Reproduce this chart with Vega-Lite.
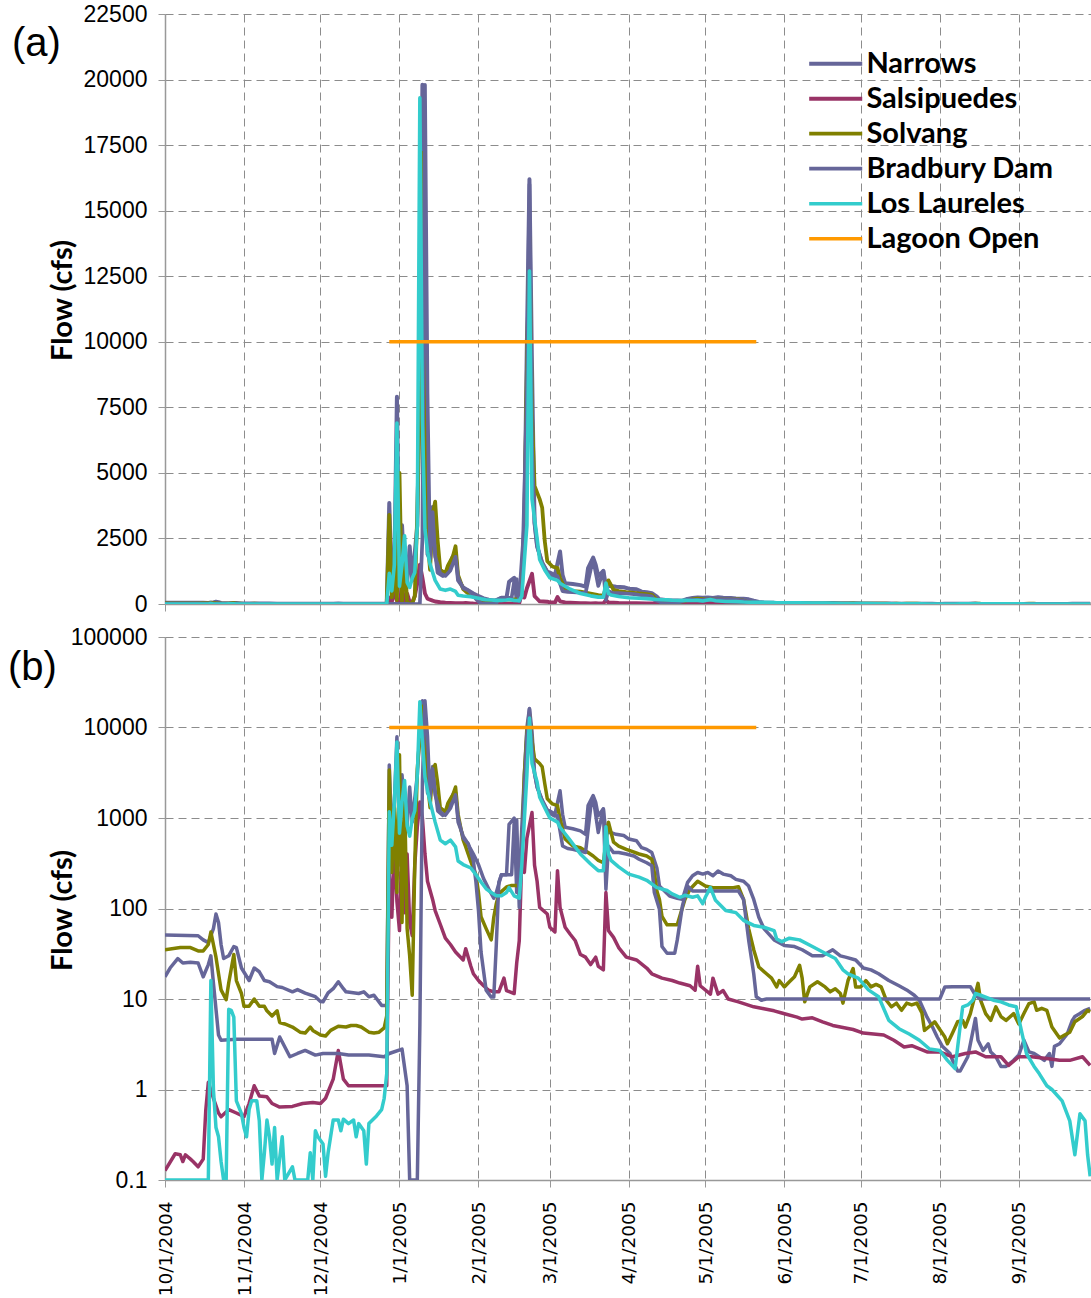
{
"$schema": "https://vega.github.io/schema/vega-lite/v6.json",
"padding": {"left": 8, "top": 3, "right": 0, "bottom": 0},
"autosize": {"type": "pad"},
"background": "white",
"bounds": "flush",
"spacing": 33,
"config": {
  "view": {"stroke": null},
  "axis": {"gridColor": "#8c8c8c", "gridDash": [8, 5], "gridWidth": 1, "domainColor": "#999999", "domainWidth": 1.5, "tickColor": "#999999", "tickSize": 7, "labelFont": "Liberation Sans", "labelColor": "#000000", "labelFontSize": 23, "titleFont": "Lato", "titleFontWeight": "bold", "titleFontSize": 29, "titleColor": "#000000"}
},
"datasets": {
"flows": [
{"series":"Narrows","date":"2004-10-01","flow":51},{"series":"Narrows","date":"2004-10-14","flow":50},{"series":"Narrows","date":"2004-10-16","flow":45},{"series":"Narrows","date":"2004-10-18","flow":42},{"series":"Narrows","date":"2004-10-20","flow":60},{"series":"Narrows","date":"2004-10-21","flow":87},{"series":"Narrows","date":"2004-10-22","flow":70},{"series":"Narrows","date":"2004-10-23","flow":40},{"series":"Narrows","date":"2004-10-24","flow":28},{"series":"Narrows","date":"2004-10-26","flow":30},{"series":"Narrows","date":"2004-10-28","flow":38},{"series":"Narrows","date":"2004-10-29","flow":37},{"series":"Narrows","date":"2004-10-31","flow":22},{"series":"Narrows","date":"2004-11-03","flow":16},{"series":"Narrows","date":"2004-11-05","flow":22},{"series":"Narrows","date":"2004-11-07","flow":20},{"series":"Narrows","date":"2004-11-09","flow":16},{"series":"Narrows","date":"2004-11-11","flow":15.5},{"series":"Narrows","date":"2004-11-14","flow":13.7},{"series":"Narrows","date":"2004-11-16","flow":13.4},{"series":"Narrows","date":"2004-11-20","flow":12},{"series":"Narrows","date":"2004-11-22","flow":12.7},{"series":"Narrows","date":"2004-11-25","flow":11.6},{"series":"Narrows","date":"2004-11-29","flow":10.6},{"series":"Narrows","date":"2004-12-01","flow":9.4},{"series":"Narrows","date":"2004-12-02","flow":9.3},{"series":"Narrows","date":"2004-12-04","flow":11.7},{"series":"Narrows","date":"2004-12-06","flow":13},{"series":"Narrows","date":"2004-12-08","flow":15.5},{"series":"Narrows","date":"2004-12-10","flow":13},{"series":"Narrows","date":"2004-12-11","flow":12},{"series":"Narrows","date":"2004-12-16","flow":11.5},{"series":"Narrows","date":"2004-12-18","flow":12},{"series":"Narrows","date":"2004-12-20","flow":10.6},{"series":"Narrows","date":"2004-12-22","flow":11},{"series":"Narrows","date":"2004-12-25","flow":8.5},{"series":"Narrows","date":"2004-12-27","flow":8.5},{"series":"Narrows","date":"2004-12-28","flow":3850},{"series":"Narrows","date":"2004-12-29","flow":600},{"series":"Narrows","date":"2004-12-30","flow":1500},{"series":"Narrows","date":"2004-12-31","flow":7900},{"series":"Narrows","date":"2005-01-01","flow":700},{"series":"Narrows","date":"2005-01-02","flow":3000},{"series":"Narrows","date":"2005-01-03","flow":1000},{"series":"Narrows","date":"2005-01-04","flow":800},{"series":"Narrows","date":"2005-01-05","flow":2200},{"series":"Narrows","date":"2005-01-06","flow":900},{"series":"Narrows","date":"2005-01-08","flow":3000},{"series":"Narrows","date":"2005-01-09","flow":9000},{"series":"Narrows","date":"2005-01-10","flow":19800},{"series":"Narrows","date":"2005-01-11","flow":12000},{"series":"Narrows","date":"2005-01-12","flow":1900},{"series":"Narrows","date":"2005-01-13","flow":1700},{"series":"Narrows","date":"2005-01-14","flow":3700},{"series":"Narrows","date":"2005-01-15","flow":2000},{"series":"Narrows","date":"2005-01-16","flow":1200},{"series":"Narrows","date":"2005-01-18","flow":1070},{"series":"Narrows","date":"2005-01-20","flow":1280},{"series":"Narrows","date":"2005-01-22","flow":1830},{"series":"Narrows","date":"2005-01-23","flow":1900},{"series":"Narrows","date":"2005-01-24","flow":900},{"series":"Narrows","date":"2005-01-26","flow":630},{"series":"Narrows","date":"2005-01-27","flow":570},{"series":"Narrows","date":"2005-01-30","flow":400},{"series":"Narrows","date":"2005-02-01","flow":306},{"series":"Narrows","date":"2005-02-03","flow":214},{"series":"Narrows","date":"2005-02-05","flow":165},{"series":"Narrows","date":"2005-02-07","flow":130},{"series":"Narrows","date":"2005-02-08","flow":150},{"series":"Narrows","date":"2005-02-10","flow":236},{"series":"Narrows","date":"2005-02-12","flow":236},{"series":"Narrows","date":"2005-02-13","flow":850},{"series":"Narrows","date":"2005-02-15","flow":1000},{"series":"Narrows","date":"2005-02-16","flow":150},{"series":"Narrows","date":"2005-02-17","flow":200},{"series":"Narrows","date":"2005-02-19","flow":3000},{"series":"Narrows","date":"2005-02-20","flow":10000},{"series":"Narrows","date":"2005-02-21","flow":16200},{"series":"Narrows","date":"2005-02-22","flow":9000},{"series":"Narrows","date":"2005-02-23","flow":3100},{"series":"Narrows","date":"2005-02-24","flow":2200},{"series":"Narrows","date":"2005-02-26","flow":1570},{"series":"Narrows","date":"2005-02-28","flow":1220},{"series":"Narrows","date":"2005-03-01","flow":1200},{"series":"Narrows","date":"2005-03-03","flow":1100},{"series":"Narrows","date":"2005-03-05","flow":2000},{"series":"Narrows","date":"2005-03-06","flow":1100},{"series":"Narrows","date":"2005-03-07","flow":790},{"series":"Narrows","date":"2005-03-10","flow":760},{"series":"Narrows","date":"2005-03-13","flow":720},{"series":"Narrows","date":"2005-03-15","flow":660},{"series":"Narrows","date":"2005-03-16","flow":1370},{"series":"Narrows","date":"2005-03-18","flow":1770},{"series":"Narrows","date":"2005-03-19","flow":1490},{"series":"Narrows","date":"2005-03-20","flow":1060},{"series":"Narrows","date":"2005-03-22","flow":1260},{"series":"Narrows","date":"2005-03-23","flow":690},{"series":"Narrows","date":"2005-03-25","flow":690},{"series":"Narrows","date":"2005-03-27","flow":660},{"series":"Narrows","date":"2005-03-30","flow":640},{"series":"Narrows","date":"2005-04-01","flow":585},{"series":"Narrows","date":"2005-04-04","flow":560},{"series":"Narrows","date":"2005-04-06","flow":470},{"series":"Narrows","date":"2005-04-08","flow":450},{"series":"Narrows","date":"2005-04-10","flow":415},{"series":"Narrows","date":"2005-04-12","flow":280},{"series":"Narrows","date":"2005-04-13","flow":177},{"series":"Narrows","date":"2005-04-17","flow":137},{"series":"Narrows","date":"2005-04-20","flow":130},{"series":"Narrows","date":"2005-04-22","flow":126},{"series":"Narrows","date":"2005-04-24","flow":193},{"series":"Narrows","date":"2005-04-26","flow":230},{"series":"Narrows","date":"2005-04-28","flow":250},{"series":"Narrows","date":"2005-04-30","flow":240},{"series":"Narrows","date":"2005-05-02","flow":250},{"series":"Narrows","date":"2005-05-04","flow":230},{"series":"Narrows","date":"2005-05-06","flow":260},{"series":"Narrows","date":"2005-05-08","flow":240},{"series":"Narrows","date":"2005-05-11","flow":230},{"series":"Narrows","date":"2005-05-13","flow":210},{"series":"Narrows","date":"2005-05-16","flow":200},{"series":"Narrows","date":"2005-05-18","flow":177},{"series":"Narrows","date":"2005-05-20","flow":126},{"series":"Narrows","date":"2005-05-22","flow":80},{"series":"Narrows","date":"2005-05-24","flow":60},{"series":"Narrows","date":"2005-05-28","flow":45},{"series":"Narrows","date":"2005-06-01","flow":39},{"series":"Narrows","date":"2005-06-05","flow":38},{"series":"Narrows","date":"2005-06-08","flow":35},{"series":"Narrows","date":"2005-06-12","flow":30},{"series":"Narrows","date":"2005-06-16","flow":30},{"series":"Narrows","date":"2005-06-20","flow":35},{"series":"Narrows","date":"2005-06-23","flow":30},{"series":"Narrows","date":"2005-06-25","flow":29},{"series":"Narrows","date":"2005-06-29","flow":27},{"series":"Narrows","date":"2005-07-02","flow":22},{"series":"Narrows","date":"2005-07-05","flow":21},{"series":"Narrows","date":"2005-07-08","flow":19},{"series":"Narrows","date":"2005-07-12","flow":16},{"series":"Narrows","date":"2005-07-16","flow":14},{"series":"Narrows","date":"2005-07-19","flow":12.6},{"series":"Narrows","date":"2005-07-22","flow":11},{"series":"Narrows","date":"2005-07-24","flow":9.7},{"series":"Narrows","date":"2005-07-27","flow":6.3},{"series":"Narrows","date":"2005-07-29","flow":5},{"series":"Narrows","date":"2005-07-31","flow":3.8},{"series":"Narrows","date":"2005-08-02","flow":3.0},{"series":"Narrows","date":"2005-08-05","flow":2.5},{"series":"Narrows","date":"2005-08-06","flow":2.1},{"series":"Narrows","date":"2005-08-08","flow":1.6},{"series":"Narrows","date":"2005-08-09","flow":1.6},{"series":"Narrows","date":"2005-08-12","flow":2.3},{"series":"Narrows","date":"2005-08-15","flow":6.1},{"series":"Narrows","date":"2005-08-16","flow":3.5},{"series":"Narrows","date":"2005-08-18","flow":2.7},{"series":"Narrows","date":"2005-08-20","flow":3.2},{"series":"Narrows","date":"2005-08-21","flow":2.6},{"series":"Narrows","date":"2005-08-23","flow":2.3},{"series":"Narrows","date":"2005-08-25","flow":1.8},{"series":"Narrows","date":"2005-08-27","flow":1.8},{"series":"Narrows","date":"2005-08-30","flow":2.1},{"series":"Narrows","date":"2005-09-01","flow":2.4},{"series":"Narrows","date":"2005-09-03","flow":3.5},{"series":"Narrows","date":"2005-09-05","flow":2.6},{"series":"Narrows","date":"2005-09-07","flow":2.5},{"series":"Narrows","date":"2005-09-09","flow":2.3},{"series":"Narrows","date":"2005-09-11","flow":2.1},{"series":"Narrows","date":"2005-09-13","flow":2.5},{"series":"Narrows","date":"2005-09-14","flow":1.8},{"series":"Narrows","date":"2005-09-15","flow":3.0},{"series":"Narrows","date":"2005-09-17","flow":3.2},{"series":"Narrows","date":"2005-09-20","flow":4.1},{"series":"Narrows","date":"2005-09-22","flow":5.8},{"series":"Narrows","date":"2005-09-23","flow":6.4},{"series":"Narrows","date":"2005-09-25","flow":6.9},{"series":"Narrows","date":"2005-09-27","flow":7.5},{"series":"Narrows","date":"2005-09-29","flow":7.9},
{"series":"Salsipuedes","date":"2004-10-01","flow":0.127},{"series":"Salsipuedes","date":"2004-10-05","flow":0.195},{"series":"Salsipuedes","date":"2004-10-07","flow":0.19},{"series":"Salsipuedes","date":"2004-10-08","flow":0.16},{"series":"Salsipuedes","date":"2004-10-09","flow":0.19},{"series":"Salsipuedes","date":"2004-10-11","flow":0.17},{"series":"Salsipuedes","date":"2004-10-12","flow":0.16},{"series":"Salsipuedes","date":"2004-10-14","flow":0.14},{"series":"Salsipuedes","date":"2004-10-16","flow":0.17},{"series":"Salsipuedes","date":"2004-10-17","flow":0.59},{"series":"Salsipuedes","date":"2004-10-18","flow":1.2},{"series":"Salsipuedes","date":"2004-10-20","flow":0.8},{"series":"Salsipuedes","date":"2004-10-22","flow":0.55},{"series":"Salsipuedes","date":"2004-10-23","flow":0.5},{"series":"Salsipuedes","date":"2004-10-26","flow":0.6},{"series":"Salsipuedes","date":"2004-10-29","flow":0.55},{"series":"Salsipuedes","date":"2004-11-01","flow":0.5},{"series":"Salsipuedes","date":"2004-11-03","flow":0.7},{"series":"Salsipuedes","date":"2004-11-05","flow":1.1},{"series":"Salsipuedes","date":"2004-11-07","flow":0.85},{"series":"Salsipuedes","date":"2004-11-10","flow":0.83},{"series":"Salsipuedes","date":"2004-11-12","flow":0.7},{"series":"Salsipuedes","date":"2004-11-15","flow":0.64},{"series":"Salsipuedes","date":"2004-11-20","flow":0.65},{"series":"Salsipuedes","date":"2004-11-24","flow":0.7},{"series":"Salsipuedes","date":"2004-11-28","flow":0.72},{"series":"Salsipuedes","date":"2004-12-01","flow":0.7},{"series":"Salsipuedes","date":"2004-12-03","flow":0.8},{"series":"Salsipuedes","date":"2004-12-06","flow":1.3},{"series":"Salsipuedes","date":"2004-12-08","flow":2.7},{"series":"Salsipuedes","date":"2004-12-10","flow":1.3},{"series":"Salsipuedes","date":"2004-12-12","flow":1.1},{"series":"Salsipuedes","date":"2004-12-27","flow":1.1},{"series":"Salsipuedes","date":"2004-12-28","flow":250},{"series":"Salsipuedes","date":"2004-12-29","flow":80},{"series":"Salsipuedes","date":"2004-12-30","flow":500},{"series":"Salsipuedes","date":"2004-12-31","flow":120},{"series":"Salsipuedes","date":"2005-01-01","flow":57},{"series":"Salsipuedes","date":"2005-01-02","flow":600},{"series":"Salsipuedes","date":"2005-01-03","flow":90},{"series":"Salsipuedes","date":"2005-01-04","flow":400},{"series":"Salsipuedes","date":"2005-01-05","flow":70},{"series":"Salsipuedes","date":"2005-01-06","flow":50},{"series":"Salsipuedes","date":"2005-01-07","flow":300},{"series":"Salsipuedes","date":"2005-01-08","flow":800},{"series":"Salsipuedes","date":"2005-01-09","flow":1500},{"series":"Salsipuedes","date":"2005-01-10","flow":1000},{"series":"Salsipuedes","date":"2005-01-11","flow":400},{"series":"Salsipuedes","date":"2005-01-12","flow":200},{"series":"Salsipuedes","date":"2005-01-14","flow":126},{"series":"Salsipuedes","date":"2005-01-15","flow":95},{"series":"Salsipuedes","date":"2005-01-17","flow":67},{"series":"Salsipuedes","date":"2005-01-19","flow":47},{"series":"Salsipuedes","date":"2005-01-21","flow":40},{"series":"Salsipuedes","date":"2005-01-23","flow":33},{"series":"Salsipuedes","date":"2005-01-26","flow":27},{"series":"Salsipuedes","date":"2005-01-27","flow":36},{"series":"Salsipuedes","date":"2005-01-29","flow":23},{"series":"Salsipuedes","date":"2005-01-30","flow":19},{"series":"Salsipuedes","date":"2005-02-01","flow":16},{"series":"Salsipuedes","date":"2005-02-03","flow":14},{"series":"Salsipuedes","date":"2005-02-05","flow":12.5},{"series":"Salsipuedes","date":"2005-02-07","flow":12},{"series":"Salsipuedes","date":"2005-02-09","flow":12},{"series":"Salsipuedes","date":"2005-02-11","flow":17},{"series":"Salsipuedes","date":"2005-02-12","flow":12.4},{"series":"Salsipuedes","date":"2005-02-15","flow":11.5},{"series":"Salsipuedes","date":"2005-02-16","flow":25},{"series":"Salsipuedes","date":"2005-02-17","flow":44},{"series":"Salsipuedes","date":"2005-02-18","flow":370},{"series":"Salsipuedes","date":"2005-02-19","flow":250},{"series":"Salsipuedes","date":"2005-02-20","flow":600},{"series":"Salsipuedes","date":"2005-02-22","flow":1150},{"series":"Salsipuedes","date":"2005-02-23","flow":300},{"series":"Salsipuedes","date":"2005-02-24","flow":200},{"series":"Salsipuedes","date":"2005-02-25","flow":103},{"series":"Salsipuedes","date":"2005-02-28","flow":87},{"series":"Salsipuedes","date":"2005-03-01","flow":62},{"series":"Salsipuedes","date":"2005-03-03","flow":55},{"series":"Salsipuedes","date":"2005-03-04","flow":262},{"series":"Salsipuedes","date":"2005-03-05","flow":103},{"series":"Salsipuedes","date":"2005-03-07","flow":62},{"series":"Salsipuedes","date":"2005-03-09","flow":52},{"series":"Salsipuedes","date":"2005-03-11","flow":44},{"series":"Salsipuedes","date":"2005-03-13","flow":31},{"series":"Salsipuedes","date":"2005-03-15","flow":29},{"series":"Salsipuedes","date":"2005-03-17","flow":24},{"series":"Salsipuedes","date":"2005-03-19","flow":29},{"series":"Salsipuedes","date":"2005-03-20","flow":23},{"series":"Salsipuedes","date":"2005-03-22","flow":21},{"series":"Salsipuedes","date":"2005-03-23","flow":150},{"series":"Salsipuedes","date":"2005-03-24","flow":57},{"series":"Salsipuedes","date":"2005-03-26","flow":48},{"series":"Salsipuedes","date":"2005-03-28","flow":37},{"series":"Salsipuedes","date":"2005-03-31","flow":29},{"series":"Salsipuedes","date":"2005-04-04","flow":27},{"series":"Salsipuedes","date":"2005-04-08","flow":22},{"series":"Salsipuedes","date":"2005-04-10","flow":19},{"series":"Salsipuedes","date":"2005-04-14","flow":17},{"series":"Salsipuedes","date":"2005-04-18","flow":16},{"series":"Salsipuedes","date":"2005-04-21","flow":15},{"series":"Salsipuedes","date":"2005-04-25","flow":14},{"series":"Salsipuedes","date":"2005-04-27","flow":12.5},{"series":"Salsipuedes","date":"2005-04-28","flow":23},{"series":"Salsipuedes","date":"2005-04-29","flow":14},{"series":"Salsipuedes","date":"2005-05-03","flow":11.3},{"series":"Salsipuedes","date":"2005-05-04","flow":17},{"series":"Salsipuedes","date":"2005-05-06","flow":11.3},{"series":"Salsipuedes","date":"2005-05-08","flow":12.4},{"series":"Salsipuedes","date":"2005-05-10","flow":10},{"series":"Salsipuedes","date":"2005-05-14","flow":9.3},{"series":"Salsipuedes","date":"2005-05-20","flow":8.2},{"series":"Salsipuedes","date":"2005-05-24","flow":7.8},{"series":"Salsipuedes","date":"2005-05-28","flow":7.4},{"series":"Salsipuedes","date":"2005-05-31","flow":7},{"series":"Salsipuedes","date":"2005-06-06","flow":6.3},{"series":"Salsipuedes","date":"2005-06-08","flow":6},{"series":"Salsipuedes","date":"2005-06-12","flow":6.2},{"series":"Salsipuedes","date":"2005-06-16","flow":5.6},{"series":"Salsipuedes","date":"2005-06-20","flow":5.1},{"series":"Salsipuedes","date":"2005-06-28","flow":4.6},{"series":"Salsipuedes","date":"2005-07-02","flow":4.2},{"series":"Salsipuedes","date":"2005-07-10","flow":4.0},{"series":"Salsipuedes","date":"2005-07-14","flow":3.5},{"series":"Salsipuedes","date":"2005-07-18","flow":2.95},{"series":"Salsipuedes","date":"2005-07-21","flow":3.05},{"series":"Salsipuedes","date":"2005-07-27","flow":2.6},{"series":"Salsipuedes","date":"2005-08-01","flow":2.6},{"series":"Salsipuedes","date":"2005-08-06","flow":2.3},{"series":"Salsipuedes","date":"2005-08-11","flow":2.5},{"series":"Salsipuedes","date":"2005-08-15","flow":2.6},{"series":"Salsipuedes","date":"2005-08-19","flow":2.3},{"series":"Salsipuedes","date":"2005-08-25","flow":2.3},{"series":"Salsipuedes","date":"2005-08-28","flow":1.85},{"series":"Salsipuedes","date":"2005-09-01","flow":2.3},{"series":"Salsipuedes","date":"2005-09-06","flow":2.3},{"series":"Salsipuedes","date":"2005-09-12","flow":2.2},{"series":"Salsipuedes","date":"2005-09-17","flow":2.1},{"series":"Salsipuedes","date":"2005-09-21","flow":2.1},{"series":"Salsipuedes","date":"2005-09-26","flow":2.3},{"series":"Salsipuedes","date":"2005-09-29","flow":1.85},
{"series":"Solvang","date":"2004-10-01","flow":35},{"series":"Solvang","date":"2004-10-07","flow":37},{"series":"Solvang","date":"2004-10-11","flow":37},{"series":"Solvang","date":"2004-10-14","flow":34},{"series":"Solvang","date":"2004-10-16","flow":34},{"series":"Solvang","date":"2004-10-18","flow":40},{"series":"Solvang","date":"2004-10-19","flow":55},{"series":"Solvang","date":"2004-10-20","flow":40},{"series":"Solvang","date":"2004-10-21","flow":29},{"series":"Solvang","date":"2004-10-23","flow":12.6},{"series":"Solvang","date":"2004-10-25","flow":9.8},{"series":"Solvang","date":"2004-10-26","flow":15},{"series":"Solvang","date":"2004-10-28","flow":31},{"series":"Solvang","date":"2004-10-29","flow":16},{"series":"Solvang","date":"2004-10-31","flow":11.5},{"series":"Solvang","date":"2004-11-01","flow":8.3},{"series":"Solvang","date":"2004-11-03","flow":8.3},{"series":"Solvang","date":"2004-11-05","flow":10},{"series":"Solvang","date":"2004-11-07","flow":8.3},{"series":"Solvang","date":"2004-11-09","flow":8.3},{"series":"Solvang","date":"2004-11-10","flow":7.4},{"series":"Solvang","date":"2004-11-12","flow":6.5},{"series":"Solvang","date":"2004-11-14","flow":7.4},{"series":"Solvang","date":"2004-11-15","flow":5.5},{"series":"Solvang","date":"2004-11-17","flow":5.3},{"series":"Solvang","date":"2004-11-20","flow":4.9},{"series":"Solvang","date":"2004-11-23","flow":4.3},{"series":"Solvang","date":"2004-11-25","flow":4.2},{"series":"Solvang","date":"2004-11-27","flow":4.9},{"series":"Solvang","date":"2004-11-28","flow":4.5},{"series":"Solvang","date":"2004-12-01","flow":4.0},{"series":"Solvang","date":"2004-12-03","flow":3.9},{"series":"Solvang","date":"2004-12-05","flow":4.5},{"series":"Solvang","date":"2004-12-08","flow":5},{"series":"Solvang","date":"2004-12-11","flow":4.9},{"series":"Solvang","date":"2004-12-13","flow":5.1},{"series":"Solvang","date":"2004-12-15","flow":5.1},{"series":"Solvang","date":"2004-12-17","flow":4.9},{"series":"Solvang","date":"2004-12-20","flow":4.3},{"series":"Solvang","date":"2004-12-22","flow":4.2},{"series":"Solvang","date":"2004-12-24","flow":4.3},{"series":"Solvang","date":"2004-12-26","flow":4.8},{"series":"Solvang","date":"2004-12-27","flow":6.5},{"series":"Solvang","date":"2004-12-28","flow":3400},{"series":"Solvang","date":"2004-12-29","flow":250},{"series":"Solvang","date":"2004-12-30","flow":1300},{"series":"Solvang","date":"2004-12-31","flow":150},{"series":"Solvang","date":"2005-01-01","flow":5000},{"series":"Solvang","date":"2005-01-02","flow":70},{"series":"Solvang","date":"2005-01-03","flow":1800},{"series":"Solvang","date":"2005-01-04","flow":60},{"series":"Solvang","date":"2005-01-05","flow":30},{"series":"Solvang","date":"2005-01-06","flow":11},{"series":"Solvang","date":"2005-01-07","flow":300},{"series":"Solvang","date":"2005-01-08","flow":3500},{"series":"Solvang","date":"2005-01-09","flow":8000},{"series":"Solvang","date":"2005-01-10","flow":17200},{"series":"Solvang","date":"2005-01-11","flow":9000},{"series":"Solvang","date":"2005-01-12","flow":2500},{"series":"Solvang","date":"2005-01-13","flow":1300},{"series":"Solvang","date":"2005-01-14","flow":3400},{"series":"Solvang","date":"2005-01-15","flow":3900},{"series":"Solvang","date":"2005-01-16","flow":2400},{"series":"Solvang","date":"2005-01-17","flow":1300},{"series":"Solvang","date":"2005-01-19","flow":1170},{"series":"Solvang","date":"2005-01-20","flow":1460},{"series":"Solvang","date":"2005-01-22","flow":1830},{"series":"Solvang","date":"2005-01-23","flow":2200},{"series":"Solvang","date":"2005-01-24","flow":1100},{"series":"Solvang","date":"2005-01-26","flow":570},{"series":"Solvang","date":"2005-01-27","flow":480},{"series":"Solvang","date":"2005-01-29","flow":330},{"series":"Solvang","date":"2005-01-31","flow":236},{"series":"Solvang","date":"2005-02-01","flow":150},{"series":"Solvang","date":"2005-02-02","flow":81},{"series":"Solvang","date":"2005-02-04","flow":60},{"series":"Solvang","date":"2005-02-06","flow":45},{"series":"Solvang","date":"2005-02-07","flow":80},{"series":"Solvang","date":"2005-02-08","flow":113},{"series":"Solvang","date":"2005-02-09","flow":145},{"series":"Solvang","date":"2005-02-12","flow":173},{"series":"Solvang","date":"2005-02-14","flow":180},{"series":"Solvang","date":"2005-02-16","flow":180},{"series":"Solvang","date":"2005-02-17","flow":170},{"series":"Solvang","date":"2005-02-18","flow":400},{"series":"Solvang","date":"2005-02-19","flow":3000},{"series":"Solvang","date":"2005-02-20","flow":9000},{"series":"Solvang","date":"2005-02-21","flow":14000},{"series":"Solvang","date":"2005-02-22","flow":7200},{"series":"Solvang","date":"2005-02-23","flow":4500},{"series":"Solvang","date":"2005-02-25","flow":4000},{"series":"Solvang","date":"2005-02-26","flow":3670},{"series":"Solvang","date":"2005-02-27","flow":2400},{"series":"Solvang","date":"2005-02-28","flow":1630},{"series":"Solvang","date":"2005-03-02","flow":1430},{"series":"Solvang","date":"2005-03-04","flow":1370},{"series":"Solvang","date":"2005-03-05","flow":975},{"series":"Solvang","date":"2005-03-07","flow":585},{"series":"Solvang","date":"2005-03-10","flow":490},{"series":"Solvang","date":"2005-03-13","flow":470},{"series":"Solvang","date":"2005-03-16","flow":415},{"series":"Solvang","date":"2005-03-18","flow":380},{"series":"Solvang","date":"2005-03-20","flow":340},{"series":"Solvang","date":"2005-03-22","flow":320},{"series":"Solvang","date":"2005-03-24","flow":900},{"series":"Solvang","date":"2005-03-26","flow":540},{"series":"Solvang","date":"2005-03-28","flow":490},{"series":"Solvang","date":"2005-03-31","flow":450},{"series":"Solvang","date":"2005-04-02","flow":430},{"series":"Solvang","date":"2005-04-05","flow":400},{"series":"Solvang","date":"2005-04-08","flow":380},{"series":"Solvang","date":"2005-04-10","flow":350},{"series":"Solvang","date":"2005-04-11","flow":250},{"series":"Solvang","date":"2005-04-12","flow":156},{"series":"Solvang","date":"2005-04-13","flow":126},{"series":"Solvang","date":"2005-04-14","flow":82},{"series":"Solvang","date":"2005-04-16","flow":66},{"series":"Solvang","date":"2005-04-20","flow":66},{"series":"Solvang","date":"2005-04-21","flow":82},{"series":"Solvang","date":"2005-04-23","flow":126},{"series":"Solvang","date":"2005-04-25","flow":163},{"series":"Solvang","date":"2005-04-28","flow":200},{"series":"Solvang","date":"2005-05-01","flow":177},{"series":"Solvang","date":"2005-05-04","flow":170},{"series":"Solvang","date":"2005-05-08","flow":170},{"series":"Solvang","date":"2005-05-12","flow":170},{"series":"Solvang","date":"2005-05-14","flow":174},{"series":"Solvang","date":"2005-05-16","flow":126},{"series":"Solvang","date":"2005-05-18","flow":60},{"series":"Solvang","date":"2005-05-20","flow":35},{"series":"Solvang","date":"2005-05-22","flow":22.6},{"series":"Solvang","date":"2005-05-25","flow":19},{"series":"Solvang","date":"2005-05-27","flow":17},{"series":"Solvang","date":"2005-05-29","flow":13.6},{"series":"Solvang","date":"2005-05-30","flow":16},{"series":"Solvang","date":"2005-06-01","flow":13.6},{"series":"Solvang","date":"2005-06-03","flow":15.5},{"series":"Solvang","date":"2005-06-05","flow":17.6},{"series":"Solvang","date":"2005-06-07","flow":23.6},{"series":"Solvang","date":"2005-06-08","flow":17},{"series":"Solvang","date":"2005-06-09","flow":9.3},{"series":"Solvang","date":"2005-06-11","flow":13.6},{"series":"Solvang","date":"2005-06-14","flow":15.5},{"series":"Solvang","date":"2005-06-17","flow":13.6},{"series":"Solvang","date":"2005-06-19","flow":12},{"series":"Solvang","date":"2005-06-21","flow":13},{"series":"Solvang","date":"2005-06-23","flow":11.5},{"series":"Solvang","date":"2005-06-24","flow":9},{"series":"Solvang","date":"2005-06-26","flow":16},{"series":"Solvang","date":"2005-06-28","flow":21.7},{"series":"Solvang","date":"2005-06-29","flow":13.6},{"series":"Solvang","date":"2005-07-01","flow":13.6},{"series":"Solvang","date":"2005-07-03","flow":16},{"series":"Solvang","date":"2005-07-05","flow":13.6},{"series":"Solvang","date":"2005-07-07","flow":14.5},{"series":"Solvang","date":"2005-07-09","flow":13.6},{"series":"Solvang","date":"2005-07-11","flow":9.7},{"series":"Solvang","date":"2005-07-13","flow":8.2},{"series":"Solvang","date":"2005-07-15","flow":9},{"series":"Solvang","date":"2005-07-17","flow":7.5},{"series":"Solvang","date":"2005-07-19","flow":9},{"series":"Solvang","date":"2005-07-21","flow":8.6},{"series":"Solvang","date":"2005-07-23","flow":9},{"series":"Solvang","date":"2005-07-25","flow":7},{"series":"Solvang","date":"2005-07-26","flow":4.5},{"series":"Solvang","date":"2005-07-28","flow":5},{"series":"Solvang","date":"2005-07-30","flow":5.6},{"series":"Solvang","date":"2005-08-01","flow":4.6},{"series":"Solvang","date":"2005-08-03","flow":3.8},{"series":"Solvang","date":"2005-08-04","flow":3.2},{"series":"Solvang","date":"2005-08-06","flow":4.2},{"series":"Solvang","date":"2005-08-08","flow":5.6},{"series":"Solvang","date":"2005-08-10","flow":5.8},{"series":"Solvang","date":"2005-08-11","flow":4.9},{"series":"Solvang","date":"2005-08-13","flow":6.9},{"series":"Solvang","date":"2005-08-15","flow":11.5},{"series":"Solvang","date":"2005-08-16","flow":14.9},{"series":"Solvang","date":"2005-08-17","flow":9.7},{"series":"Solvang","date":"2005-08-19","flow":6.9},{"series":"Solvang","date":"2005-08-21","flow":5.8},{"series":"Solvang","date":"2005-08-23","flow":8.2},{"series":"Solvang","date":"2005-08-25","flow":6.4},{"series":"Solvang","date":"2005-08-27","flow":5.8},{"series":"Solvang","date":"2005-08-30","flow":6.9},{"series":"Solvang","date":"2005-09-01","flow":5.3},{"series":"Solvang","date":"2005-09-03","flow":6.9},{"series":"Solvang","date":"2005-09-05","flow":8.9},{"series":"Solvang","date":"2005-09-07","flow":9.3},{"series":"Solvang","date":"2005-09-08","flow":7.5},{"series":"Solvang","date":"2005-09-10","flow":7.9},{"series":"Solvang","date":"2005-09-12","flow":7.5},{"series":"Solvang","date":"2005-09-14","flow":4.9},{"series":"Solvang","date":"2005-09-17","flow":3.7},{"series":"Solvang","date":"2005-09-19","flow":4},{"series":"Solvang","date":"2005-09-21","flow":4.3},{"series":"Solvang","date":"2005-09-23","flow":5.6},{"series":"Solvang","date":"2005-09-26","flow":6.4},{"series":"Solvang","date":"2005-09-28","flow":7.5},{"series":"Solvang","date":"2005-09-29","flow":7.2},
{"series":"Bradbury Dam","date":"2004-10-01","flow":17.6},{"series":"Bradbury Dam","date":"2004-10-03","flow":22},{"series":"Bradbury Dam","date":"2004-10-06","flow":28},{"series":"Bradbury Dam","date":"2004-10-08","flow":25},{"series":"Bradbury Dam","date":"2004-10-11","flow":25.5},{"series":"Bradbury Dam","date":"2004-10-14","flow":25},{"series":"Bradbury Dam","date":"2004-10-16","flow":17.6},{"series":"Bradbury Dam","date":"2004-10-18","flow":24},{"series":"Bradbury Dam","date":"2004-10-19","flow":30},{"series":"Bradbury Dam","date":"2004-10-20","flow":15},{"series":"Bradbury Dam","date":"2004-10-22","flow":4.0},{"series":"Bradbury Dam","date":"2004-10-23","flow":3.5},{"series":"Bradbury Dam","date":"2004-10-29","flow":3.6},{"series":"Bradbury Dam","date":"2004-11-12","flow":3.6},{"series":"Bradbury Dam","date":"2004-11-13","flow":2.5},{"series":"Bradbury Dam","date":"2004-11-15","flow":3.8},{"series":"Bradbury Dam","date":"2004-11-19","flow":2.3},{"series":"Bradbury Dam","date":"2004-11-22","flow":2.5},{"series":"Bradbury Dam","date":"2004-11-25","flow":2.7},{"series":"Bradbury Dam","date":"2004-11-29","flow":2.4},{"series":"Bradbury Dam","date":"2004-12-02","flow":2.5},{"series":"Bradbury Dam","date":"2004-12-08","flow":2.5},{"series":"Bradbury Dam","date":"2004-12-12","flow":2.4},{"series":"Bradbury Dam","date":"2004-12-20","flow":2.4},{"series":"Bradbury Dam","date":"2004-12-26","flow":2.3},{"series":"Bradbury Dam","date":"2004-12-28","flow":2.5},{"series":"Bradbury Dam","date":"2005-01-02","flow":2.8},{"series":"Bradbury Dam","date":"2005-01-04","flow":1.1},{"series":"Bradbury Dam","date":"2005-01-05","flow":0.1},{"series":"Bradbury Dam","date":"2005-01-08","flow":0.1},{"series":"Bradbury Dam","date":"2005-01-09","flow":5},{"series":"Bradbury Dam","date":"2005-01-10","flow":2500},{"series":"Bradbury Dam","date":"2005-01-11","flow":19800},{"series":"Bradbury Dam","date":"2005-01-12","flow":8000},{"series":"Bradbury Dam","date":"2005-01-13","flow":1700},{"series":"Bradbury Dam","date":"2005-01-14","flow":3500},{"series":"Bradbury Dam","date":"2005-01-15","flow":1800},{"series":"Bradbury Dam","date":"2005-01-17","flow":1170},{"series":"Bradbury Dam","date":"2005-01-19","flow":1070},{"series":"Bradbury Dam","date":"2005-01-21","flow":1280},{"series":"Bradbury Dam","date":"2005-01-23","flow":1800},{"series":"Bradbury Dam","date":"2005-01-24","flow":1000},{"series":"Bradbury Dam","date":"2005-01-26","flow":600},{"series":"Bradbury Dam","date":"2005-01-28","flow":520},{"series":"Bradbury Dam","date":"2005-01-30","flow":335},{"series":"Bradbury Dam","date":"2005-01-31","flow":196},{"series":"Bradbury Dam","date":"2005-02-01","flow":95},{"series":"Bradbury Dam","date":"2005-02-02","flow":33},{"series":"Bradbury Dam","date":"2005-02-04","flow":12.5},{"series":"Bradbury Dam","date":"2005-02-06","flow":10.5},{"series":"Bradbury Dam","date":"2005-02-07","flow":10.5},{"series":"Bradbury Dam","date":"2005-02-08","flow":40},{"series":"Bradbury Dam","date":"2005-02-09","flow":196},{"series":"Bradbury Dam","date":"2005-02-10","flow":236},{"series":"Bradbury Dam","date":"2005-02-12","flow":236},{"series":"Bradbury Dam","date":"2005-02-14","flow":236},{"series":"Bradbury Dam","date":"2005-02-15","flow":850},{"series":"Bradbury Dam","date":"2005-02-16","flow":950},{"series":"Bradbury Dam","date":"2005-02-17","flow":103},{"series":"Bradbury Dam","date":"2005-02-18","flow":500},{"series":"Bradbury Dam","date":"2005-02-20","flow":8000},{"series":"Bradbury Dam","date":"2005-02-21","flow":16000},{"series":"Bradbury Dam","date":"2005-02-22","flow":6000},{"series":"Bradbury Dam","date":"2005-02-23","flow":3100},{"series":"Bradbury Dam","date":"2005-02-24","flow":2200},{"series":"Bradbury Dam","date":"2005-02-26","flow":1570},{"series":"Bradbury Dam","date":"2005-02-28","flow":1220},{"series":"Bradbury Dam","date":"2005-03-01","flow":1120},{"series":"Bradbury Dam","date":"2005-03-03","flow":1050},{"series":"Bradbury Dam","date":"2005-03-04","flow":1060},{"series":"Bradbury Dam","date":"2005-03-06","flow":490},{"series":"Bradbury Dam","date":"2005-03-08","flow":460},{"series":"Bradbury Dam","date":"2005-03-10","flow":450},{"series":"Bradbury Dam","date":"2005-03-13","flow":430},{"series":"Bradbury Dam","date":"2005-03-15","flow":415},{"series":"Bradbury Dam","date":"2005-03-17","flow":1300},{"series":"Bradbury Dam","date":"2005-03-18","flow":1700},{"series":"Bradbury Dam","date":"2005-03-20","flow":693},{"series":"Bradbury Dam","date":"2005-03-22","flow":1260},{"series":"Bradbury Dam","date":"2005-03-23","flow":163},{"series":"Bradbury Dam","date":"2005-03-24","flow":490},{"series":"Bradbury Dam","date":"2005-03-26","flow":415},{"series":"Bradbury Dam","date":"2005-03-28","flow":415},{"series":"Bradbury Dam","date":"2005-03-31","flow":400},{"series":"Bradbury Dam","date":"2005-04-03","flow":380},{"series":"Bradbury Dam","date":"2005-04-05","flow":350},{"series":"Bradbury Dam","date":"2005-04-08","flow":320},{"series":"Bradbury Dam","date":"2005-04-10","flow":296},{"series":"Bradbury Dam","date":"2005-04-11","flow":150},{"series":"Bradbury Dam","date":"2005-04-13","flow":98},{"series":"Bradbury Dam","date":"2005-04-14","flow":38},{"series":"Bradbury Dam","date":"2005-04-16","flow":32},{"series":"Bradbury Dam","date":"2005-04-19","flow":32},{"series":"Bradbury Dam","date":"2005-04-20","flow":45},{"series":"Bradbury Dam","date":"2005-04-22","flow":106},{"series":"Bradbury Dam","date":"2005-04-24","flow":177},{"series":"Bradbury Dam","date":"2005-04-26","flow":156},{"series":"Bradbury Dam","date":"2005-05-14","flow":156},{"series":"Bradbury Dam","date":"2005-05-16","flow":126},{"series":"Bradbury Dam","date":"2005-05-18","flow":45},{"series":"Bradbury Dam","date":"2005-05-20","flow":19},{"series":"Bradbury Dam","date":"2005-05-21","flow":10.6},{"series":"Bradbury Dam","date":"2005-05-23","flow":9.7},{"series":"Bradbury Dam","date":"2005-05-25","flow":10},{"series":"Bradbury Dam","date":"2005-08-01","flow":10},{"series":"Bradbury Dam","date":"2005-08-03","flow":13.6},{"series":"Bradbury Dam","date":"2005-08-06","flow":13.7},{"series":"Bradbury Dam","date":"2005-08-13","flow":13.7},{"series":"Bradbury Dam","date":"2005-08-15","flow":11},{"series":"Bradbury Dam","date":"2005-08-17","flow":10},{"series":"Bradbury Dam","date":"2005-09-29","flow":10},
{"series":"Los Laureles","date":"2004-10-01","flow":0.1},{"series":"Los Laureles","date":"2004-10-18","flow":0.1},{"series":"Los Laureles","date":"2004-10-19","flow":16},{"series":"Los Laureles","date":"2004-10-20","flow":1.0},{"series":"Los Laureles","date":"2004-10-21","flow":0.38},{"series":"Los Laureles","date":"2004-10-22","flow":0.3},{"series":"Los Laureles","date":"2004-10-23","flow":0.16},{"series":"Los Laureles","date":"2004-10-24","flow":0.1},{"series":"Los Laureles","date":"2004-10-25","flow":0.1},{"series":"Los Laureles","date":"2004-10-26","flow":7.7},{"series":"Los Laureles","date":"2004-10-27","flow":7.5},{"series":"Los Laureles","date":"2004-10-28","flow":6.3},{"series":"Los Laureles","date":"2004-10-29","flow":0.75},{"series":"Los Laureles","date":"2004-10-31","flow":0.54},{"series":"Los Laureles","date":"2004-11-01","flow":0.38},{"series":"Los Laureles","date":"2004-11-02","flow":0.3},{"series":"Los Laureles","date":"2004-11-03","flow":0.6},{"series":"Los Laureles","date":"2004-11-04","flow":0.75},{"series":"Los Laureles","date":"2004-11-06","flow":0.75},{"series":"Los Laureles","date":"2004-11-07","flow":0.45},{"series":"Los Laureles","date":"2004-11-08","flow":0.1},{"series":"Los Laureles","date":"2004-11-09","flow":0.2},{"series":"Los Laureles","date":"2004-11-10","flow":0.46},{"series":"Los Laureles","date":"2004-11-11","flow":0.3},{"series":"Los Laureles","date":"2004-11-12","flow":0.15},{"series":"Los Laureles","date":"2004-11-13","flow":0.38},{"series":"Los Laureles","date":"2004-11-14","flow":0.1},{"series":"Los Laureles","date":"2004-11-16","flow":0.3},{"series":"Los Laureles","date":"2004-11-17","flow":0.1},{"series":"Los Laureles","date":"2004-11-20","flow":0.14},{"series":"Los Laureles","date":"2004-11-21","flow":0.1},{"series":"Los Laureles","date":"2004-11-26","flow":0.1},{"series":"Los Laureles","date":"2004-11-27","flow":0.2},{"series":"Los Laureles","date":"2004-11-28","flow":0.1},{"series":"Los Laureles","date":"2004-11-29","flow":0.35},{"series":"Los Laureles","date":"2004-11-30","flow":0.3},{"series":"Los Laureles","date":"2004-12-02","flow":0.25},{"series":"Los Laureles","date":"2004-12-03","flow":0.11},{"series":"Los Laureles","date":"2004-12-04","flow":0.2},{"series":"Los Laureles","date":"2004-12-06","flow":0.46},{"series":"Los Laureles","date":"2004-12-08","flow":0.46},{"series":"Los Laureles","date":"2004-12-09","flow":0.35},{"series":"Los Laureles","date":"2004-12-10","flow":0.47},{"series":"Los Laureles","date":"2004-12-12","flow":0.42},{"series":"Los Laureles","date":"2004-12-14","flow":0.46},{"series":"Los Laureles","date":"2004-12-15","flow":0.3},{"series":"Los Laureles","date":"2004-12-16","flow":0.42},{"series":"Los Laureles","date":"2004-12-18","flow":0.35},{"series":"Los Laureles","date":"2004-12-19","flow":0.15},{"series":"Los Laureles","date":"2004-12-20","flow":0.42},{"series":"Los Laureles","date":"2004-12-23","flow":0.51},{"series":"Los Laureles","date":"2004-12-25","flow":0.6},{"series":"Los Laureles","date":"2004-12-26","flow":0.8},{"series":"Los Laureles","date":"2004-12-27","flow":1.5},{"series":"Los Laureles","date":"2004-12-28","flow":1170},{"series":"Los Laureles","date":"2004-12-29","flow":500},{"series":"Los Laureles","date":"2004-12-30","flow":1500},{"series":"Los Laureles","date":"2004-12-31","flow":6900},{"series":"Los Laureles","date":"2005-01-01","flow":680},{"series":"Los Laureles","date":"2005-01-02","flow":1500},{"series":"Los Laureles","date":"2005-01-03","flow":2600},{"series":"Los Laureles","date":"2005-01-04","flow":820},{"series":"Los Laureles","date":"2005-01-05","flow":630},{"series":"Los Laureles","date":"2005-01-06","flow":980},{"series":"Los Laureles","date":"2005-01-07","flow":1200},{"series":"Los Laureles","date":"2005-01-08","flow":3000},{"series":"Los Laureles","date":"2005-01-09","flow":19300},{"series":"Los Laureles","date":"2005-01-10","flow":7000},{"series":"Los Laureles","date":"2005-01-11","flow":2850},{"series":"Los Laureles","date":"2005-01-12","flow":2000},{"series":"Los Laureles","date":"2005-01-13","flow":1520},{"series":"Los Laureles","date":"2005-01-15","flow":900},{"series":"Los Laureles","date":"2005-01-17","flow":570},{"series":"Los Laureles","date":"2005-01-19","flow":520},{"series":"Los Laureles","date":"2005-01-21","flow":570},{"series":"Los Laureles","date":"2005-01-23","flow":480},{"series":"Los Laureles","date":"2005-01-24","flow":335},{"series":"Los Laureles","date":"2005-01-26","flow":306},{"series":"Los Laureles","date":"2005-01-29","flow":280},{"series":"Los Laureles","date":"2005-01-31","flow":236},{"series":"Los Laureles","date":"2005-02-02","flow":196},{"series":"Los Laureles","date":"2005-02-04","flow":165},{"series":"Los Laureles","date":"2005-02-06","flow":150},{"series":"Los Laureles","date":"2005-02-08","flow":138},{"series":"Los Laureles","date":"2005-02-10","flow":138},{"series":"Los Laureles","date":"2005-02-12","flow":150},{"series":"Los Laureles","date":"2005-02-13","flow":170},{"series":"Los Laureles","date":"2005-02-15","flow":138},{"series":"Los Laureles","date":"2005-02-17","flow":130},{"series":"Los Laureles","date":"2005-02-18","flow":300},{"series":"Los Laureles","date":"2005-02-20","flow":3000},{"series":"Los Laureles","date":"2005-02-21","flow":12700},{"series":"Los Laureles","date":"2005-02-22","flow":4000},{"series":"Los Laureles","date":"2005-02-24","flow":2500},{"series":"Los Laureles","date":"2005-02-25","flow":1700},{"series":"Los Laureles","date":"2005-02-27","flow":1300},{"series":"Los Laureles","date":"2005-03-01","flow":1000},{"series":"Los Laureles","date":"2005-03-04","flow":900},{"series":"Los Laureles","date":"2005-03-05","flow":790},{"series":"Los Laureles","date":"2005-03-09","flow":565},{"series":"Los Laureles","date":"2005-03-13","flow":400},{"series":"Los Laureles","date":"2005-03-17","flow":310},{"series":"Los Laureles","date":"2005-03-20","flow":262},{"series":"Los Laureles","date":"2005-03-22","flow":262},{"series":"Los Laureles","date":"2005-03-23","flow":800},{"series":"Los Laureles","date":"2005-03-24","flow":400},{"series":"Los Laureles","date":"2005-03-25","flow":340},{"series":"Los Laureles","date":"2005-03-28","flow":288},{"series":"Los Laureles","date":"2005-04-01","flow":240},{"series":"Los Laureles","date":"2005-04-05","flow":222},{"series":"Los Laureles","date":"2005-04-08","flow":205},{"series":"Los Laureles","date":"2005-04-12","flow":170},{"series":"Los Laureles","date":"2005-04-16","flow":158},{"series":"Los Laureles","date":"2005-04-18","flow":145},{"series":"Los Laureles","date":"2005-04-21","flow":133},{"series":"Los Laureles","date":"2005-04-23","flow":140},{"series":"Los Laureles","date":"2005-04-26","flow":133},{"series":"Los Laureles","date":"2005-04-28","flow":138},{"series":"Los Laureles","date":"2005-04-30","flow":113},{"series":"Los Laureles","date":"2005-05-01","flow":133},{"series":"Los Laureles","date":"2005-05-03","flow":170},{"series":"Los Laureles","date":"2005-05-05","flow":123},{"series":"Los Laureles","date":"2005-05-09","flow":95},{"series":"Los Laureles","date":"2005-05-13","flow":90},{"series":"Los Laureles","date":"2005-05-16","flow":74},{"series":"Los Laureles","date":"2005-05-20","flow":65},{"series":"Los Laureles","date":"2005-05-24","flow":62},{"series":"Los Laureles","date":"2005-05-28","flow":57},{"series":"Los Laureles","date":"2005-05-29","flow":46},{"series":"Los Laureles","date":"2005-05-31","flow":43},{"series":"Los Laureles","date":"2005-06-03","flow":47},{"series":"Los Laureles","date":"2005-06-07","flow":45},{"series":"Los Laureles","date":"2005-06-12","flow":38},{"series":"Los Laureles","date":"2005-06-17","flow":32},{"series":"Los Laureles","date":"2005-06-21","flow":28},{"series":"Los Laureles","date":"2005-06-24","flow":21},{"series":"Los Laureles","date":"2005-06-26","flow":19},{"series":"Los Laureles","date":"2005-06-30","flow":17},{"series":"Los Laureles","date":"2005-07-04","flow":12.6},{"series":"Los Laureles","date":"2005-07-08","flow":10.6},{"series":"Los Laureles","date":"2005-07-12","flow":5.8},{"series":"Los Laureles","date":"2005-07-16","flow":4.7},{"series":"Los Laureles","date":"2005-07-20","flow":4.1},{"series":"Los Laureles","date":"2005-07-24","flow":3.5},{"series":"Los Laureles","date":"2005-07-28","flow":2.8},{"series":"Los Laureles","date":"2005-08-01","flow":2.7},{"series":"Los Laureles","date":"2005-08-04","flow":2.1},{"series":"Los Laureles","date":"2005-08-07","flow":1.7},{"series":"Los Laureles","date":"2005-08-09","flow":5},{"series":"Los Laureles","date":"2005-08-10","flow":8.2},{"series":"Los Laureles","date":"2005-08-12","flow":8.6},{"series":"Los Laureles","date":"2005-08-14","flow":9.7},{"series":"Los Laureles","date":"2005-08-15","flow":11.5},{"series":"Los Laureles","date":"2005-08-17","flow":11},{"series":"Los Laureles","date":"2005-08-22","flow":9.7},{"series":"Los Laureles","date":"2005-08-25","flow":9.3},{"series":"Los Laureles","date":"2005-08-28","flow":8.6},{"series":"Los Laureles","date":"2005-08-31","flow":8.2},{"series":"Los Laureles","date":"2005-09-02","flow":4.5},{"series":"Los Laureles","date":"2005-09-04","flow":2.5},{"series":"Los Laureles","date":"2005-09-07","flow":1.8},{"series":"Los Laureles","date":"2005-09-09","flow":1.5},{"series":"Los Laureles","date":"2005-09-12","flow":1.1},{"series":"Los Laureles","date":"2005-09-14","flow":1.0},{"series":"Los Laureles","date":"2005-09-18","flow":0.75},{"series":"Los Laureles","date":"2005-09-21","flow":0.45},{"series":"Los Laureles","date":"2005-09-23","flow":0.19},{"series":"Los Laureles","date":"2005-09-25","flow":0.54},{"series":"Los Laureles","date":"2005-09-27","flow":0.45},{"series":"Los Laureles","date":"2005-09-28","flow":0.19},{"series":"Los Laureles","date":"2005-09-29","flow":0.11},
{"series":"Lagoon Open","date":"2004-12-28","flow":10000},{"series":"Lagoon Open","date":"2005-05-21","flow":10000}
]
},
"resolve": {"scale": {"x": "independent", "y": "independent", "color": "shared", "strokeWidth": "independent"}, "legend": {"color": "independent", "strokeWidth": "independent"}},
"vconcat": [
{
  "width": 926, "height": 590,
  "layer": [
  {
    "data": {"name": "flows"},
    "mark": {"type": "line", "clip": true, "strokeJoin": "round"},
    "encoding": {
      "x": {"field": "date", "type": "temporal",
        "scale": {"type": "utc", "domain": [{"year": 2004, "month": 10, "date": 1, "utc": true}, {"year": 2005, "month": 9, "date": 29, "hours": 8, "utc": true}]},
        "axis": {"title": null, "labels": false, "grid": true, "ticks": true,
          "values": [{"year":2004,"month":10,"date":1,"utc":true},{"year":2004,"month":11,"date":1,"utc":true},{"year":2004,"month":12,"date":1,"utc":true},{"year":2005,"month":1,"date":1,"utc":true},{"year":2005,"month":2,"date":1,"utc":true},{"year":2005,"month":3,"date":1,"utc":true},{"year":2005,"month":4,"date":1,"utc":true},{"year":2005,"month":5,"date":1,"utc":true},{"year":2005,"month":6,"date":1,"utc":true},{"year":2005,"month":7,"date":1,"utc":true},{"year":2005,"month":8,"date":1,"utc":true},{"year":2005,"month":9,"date":1,"utc":true}]}},
      "y": {"field": "flow", "type": "quantitative",
        "scale": {"domain": [0, 22500], "nice": false, "zero": true},
        "axis": {"values": [0, 2500, 5000, 7500, 10000, 12500, 15000, 17500, 20000, 22500], "format": "d", "grid": true, "labelPadding": 11, "title": "Flow (cfs)", "titleX": -103, "titleY": 286, "titleBaseline": "middle", "titleAngle": 270}},
      "color": {"field": "series", "type": "nominal",
        "scale": {"domain": ["Narrows", "Salsipuedes", "Solvang", "Bradbury Dam", "Los Laureles", "Lagoon Open"], "range": ["#666699", "#993366", "#808000", "#666699", "#33CCCC", "#FF9900"]},
        "legend": {"orient": "none", "legendX": 650.7, "legendY": 29.7, "title": null, "padding": 0, "symbolType": "M-1.49,0H1.49", "symbolSize": 1267, "symbolStrokeWidth": 4, "symbolFillColor": "transparent", "rowPadding": 0, "labelOffset": 10.7, "labelFont": "Lato", "labelFontWeight": "bold", "labelFontSize": 29, "labelColor": "#000000", "labelLimit": 400,
          "encode": {"symbols": {"update": {"strokeWidth": {"signal": "datum.value === 'Los Laureles' ? 2 : 4"}}}}}},
      "strokeWidth": {"field": "series", "type": "ordinal",
        "scale": {"domain": ["Narrows", "Salsipuedes", "Solvang", "Bradbury Dam", "Los Laureles", "Lagoon Open"], "range": [4, 3.5, 4, 4, 2, 4]},
        "legend": null}
    }
  },
  {
    "data": {"values": [{"label": "(a)"}]},
    "mark": {"type": "text", "align": "left", "baseline": "middle", "dx": -153, "font": "Liberation Sans", "fontSize": 40, "color": "#000000"},
    "encoding": {
      "x": {"datum": {"year": 2004, "month": 10, "date": 1, "utc": true}, "type": "temporal"},
      "y": {"datum": 21338, "type": "quantitative"},
      "text": {"field": "label"}
    }
  }
  ]
},
{
  "width": 926, "height": 543,
  "layer": [
  {
    "data": {"name": "flows"},
    "mark": {"type": "line", "clip": true, "strokeJoin": "round"},
    "encoding": {
      "x": {"field": "date", "type": "temporal",
        "scale": {"type": "utc", "domain": [{"year": 2004, "month": 10, "date": 1, "utc": true}, {"year": 2005, "month": 9, "date": 29, "hours": 8, "utc": true}]},
        "axis": {"title": null, "grid": true, "ticks": true, "labelExpr": "utcFormat(datum.value, '%-m/%-d/%Y')", "labelAngle": 270, "labelFont": "DejaVu Sans", "labelFontSize": 18.5, "labelPadding": 14,
          "values": [{"year":2004,"month":10,"date":1,"utc":true},{"year":2004,"month":11,"date":1,"utc":true},{"year":2004,"month":12,"date":1,"utc":true},{"year":2005,"month":1,"date":1,"utc":true},{"year":2005,"month":2,"date":1,"utc":true},{"year":2005,"month":3,"date":1,"utc":true},{"year":2005,"month":4,"date":1,"utc":true},{"year":2005,"month":5,"date":1,"utc":true},{"year":2005,"month":6,"date":1,"utc":true},{"year":2005,"month":7,"date":1,"utc":true},{"year":2005,"month":8,"date":1,"utc":true},{"year":2005,"month":9,"date":1,"utc":true}]}},
      "y": {"field": "flow", "type": "quantitative",
        "scale": {"type": "log", "domain": [0.1, 100000], "nice": false},
        "axis": {"values": [0.1, 1, 10, 100, 1000, 10000, 100000], "format": "~g", "grid": true, "labelPadding": 11, "title": "Flow (cfs)", "titleX": -103, "titleY": 273, "titleBaseline": "middle", "titleAngle": 270}},
      "color": {"field": "series", "type": "nominal",
        "scale": {"domain": ["Narrows", "Salsipuedes", "Solvang", "Bradbury Dam", "Los Laureles", "Lagoon Open"], "range": ["#666699", "#993366", "#808000", "#666699", "#33CCCC", "#FF9900"]},
        "legend": null},
      "strokeWidth": {"field": "series", "type": "ordinal",
        "scale": {"domain": ["Narrows", "Salsipuedes", "Solvang", "Bradbury Dam", "Los Laureles", "Lagoon Open"], "range": [3.5, 3.5, 3.5, 3.5, 3.5, 3.5]},
        "legend": null}
    }
  },
  {
    "data": {"values": [{"label": "(b)"}]},
    "mark": {"type": "text", "align": "left", "baseline": "middle", "dx": -157, "font": "Liberation Sans", "fontSize": 40, "color": "#000000"},
    "encoding": {
      "x": {"datum": {"year": 2004, "month": 10, "date": 1, "utc": true}, "type": "temporal"},
      "y": {"datum": 45450, "type": "quantitative"},
      "text": {"field": "label"}
    }
  }
  ]
}
]
}
